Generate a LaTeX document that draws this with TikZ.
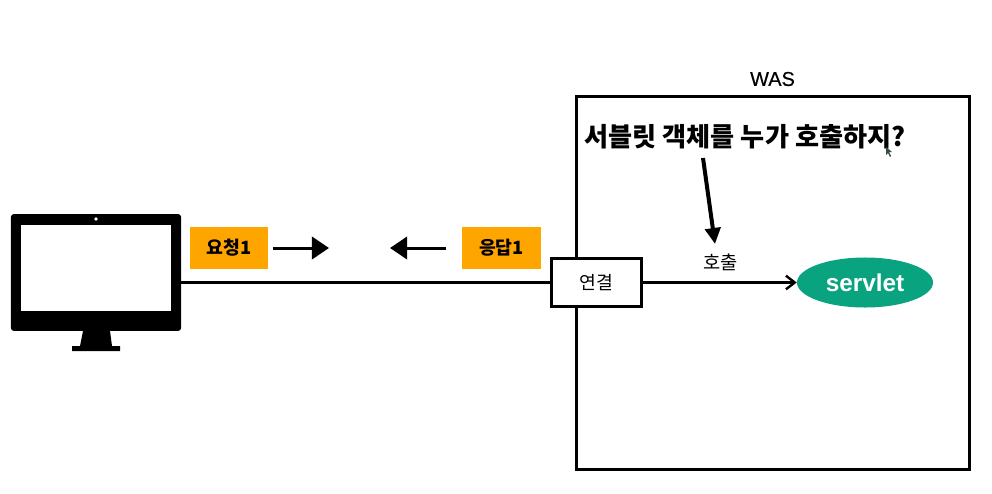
\documentclass[tikz,border=0pt]{standalone}
\usepackage{fontspec}
\setmainfont{Noto Sans CJK KR}
\newfontfamily\latinfont{Liberation Sans}
\newfontfamily\latinmedium[FakeBold=0.3]{Liberation Sans}
\usetikzlibrary{arrows.meta,shapes.geometric}
\definecolor{Tag}{HTML}{FFA500}
\definecolor{Servlet}{HTML}{0AA37F}
\definecolor{Cursor}{HTML}{3A4A48}

\begin{document}
\begin{tikzpicture}[
  x=0.025cm,y=-0.025cm,
  tagbox/.style={fill=Tag,minimum width=1.95cm,minimum height=1.05cm,inner sep=0pt,font=\fontsize{13}{15}\selectfont\bfseries},
  linkbox/.style={draw=black,line width=0.075cm,fill=white,minimum width=2.25cm,minimum height=1.2cm,inner sep=0pt,font=\fontsize{13}{15}\selectfont},
  wasbox/.style={draw=black,line width=0.075cm,minimum width=9.8cm,minimum height=9.3cm,inner sep=0pt},
  servletnode/.style={ellipse,fill=Servlet,text=white,minimum width=3.4cm,minimum height=1.25cm,inner sep=0pt,font=\latinfont\fontsize{17.3}{19}\selectfont\bfseries},
  wire/.style={line width=0.06cm,draw=black},
  handarrow/.style={-{Triangle[length=0.43cm,width=0.56cm]},line width=0.075cm,draw=black}
]
\useasboundingbox (0,0) rectangle (992,493);
% server side
\node[wasbox] (was) at (773,283) {};
\node[font=\latinmedium\fontsize{14.2}{16}\selectfont,inner sep=0pt] (waslabel) at (772.5,79) {WAS};
\node[font=\fontsize{18.6}{21}\selectfont\bfseries,inner sep=0pt] (question) at (745,137) {서블릿 객체를 누가 호출하지?};
\node[servletnode] (servlet) at (865,282.5) {servlet};
\node[font=\fontsize{13.3}{15}\selectfont,inner sep=0pt] (call) at (720.5,262) {호출};
% client side
\node[fill=black,rounded corners=2pt,minimum width=4.25cm,minimum height=2.92cm,inner sep=0pt] (monitor) at (96,272.5) {};
\node[fill=white,minimum width=3.75cm,minimum height=2.15cm,inner sep=0pt] (screen) at (96,268) {};
\node[circle,fill=white,minimum size=0.09cm,inner sep=0pt] (camera) at (96,219) {};
\fill[black] (83,331) -- (110,331) -- (112,346) -- (120,346) -- (120,351) -- (72,351) -- (72,346) -- (80,346) -- cycle;
\node[tagbox] (req) at (229,248) {요청1};
\node[tagbox] (res) at (501.5,248) {응답1};
\coordinate (reqtip) at (329,248);
\coordinate (restip) at (390,248);
\coordinate (asktail) at (703,158);
\coordinate (askhead) at (715,244);
\node[linkbox] (link) at (596.5,282.5) {연결};
\draw[wire] (monitor.east |- link.west) -- (link.west);
\draw[wire,-{Straight Barb[length=0.22cm,width=0.34cm]}] (link.east) -- (servlet.west);
\draw[handarrow,shorten <=0.125cm] (req.east) -- (reqtip);
\draw[handarrow,shorten <=0.4cm] (res.west) -- (restip);
\draw[-{Triangle[length=0.4cm,width=0.38cm]},line width=0.1cm] (asktail) -- (askhead);
% pointer
\fill[Cursor] (886,147) -- (886,155) -- (888,153) -- (890,157) -- (891,156) -- (889,152) -- (892,152) -- cycle;
\end{tikzpicture}
\end{document}
